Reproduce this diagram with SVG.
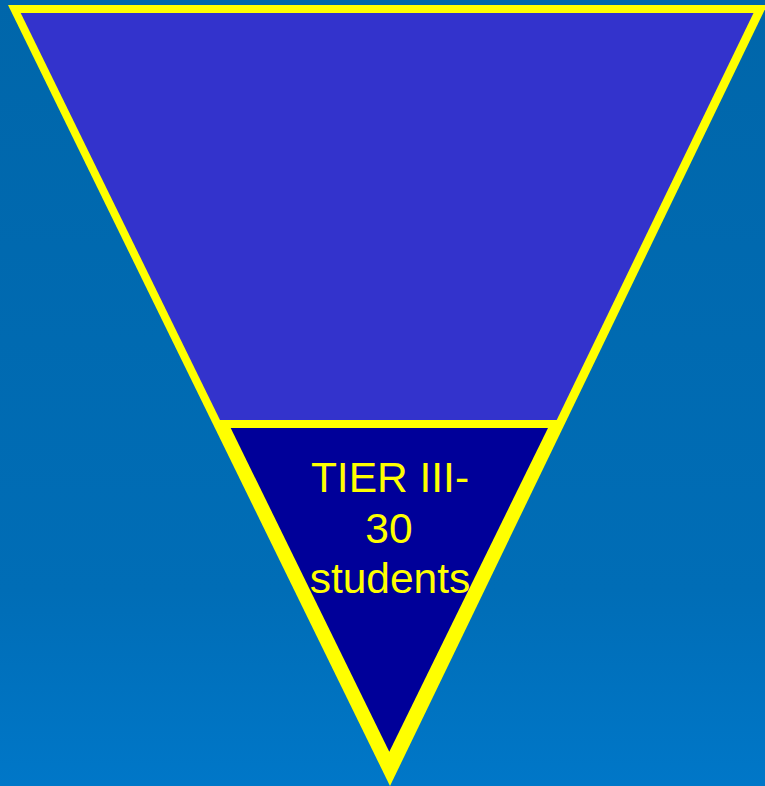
<svg xmlns="http://www.w3.org/2000/svg" width="765" height="786" viewBox="0 0 765 786">
  <defs>
    <linearGradient id="bg" x1="0" y1="0" x2="0" y2="1">
      <stop offset="0" stop-color="#0066AA"/>
      <stop offset="0.75" stop-color="#006DB6"/>
      <stop offset="1" stop-color="#0077C8"/>
    </linearGradient>
  </defs>
  <style>
    .outline { fill: #FFFF00; }
    .upper { fill: #3333CC; }
    .lower { fill: #000099; }
    .label { fill: #FFFF00; font-family: "Liberation Sans", Arial, sans-serif; font-size: 42.5px; text-anchor: middle; }
  </style>
  <rect x="0" y="0" width="765" height="786" fill="url(#bg)"/>
  <g id="funnel-outline">
    <polygon class="outline" points="8,5 767,5 390,786"/>
  </g>
  <g id="tier-upper">
    <polygon class="upper" points="20.7,13 753.5,13 556.7,420 220,420"/>
  </g>
  <g id="tier-3">
    <polygon class="lower" points="230.7,428 548,428 389.3,751.7"/>
    <text class="label" x="390" y="492">TIER III-</text>
    <text class="label" x="389" y="543">30</text>
    <text class="label" x="390" y="593">students</text>
  </g>
</svg>
